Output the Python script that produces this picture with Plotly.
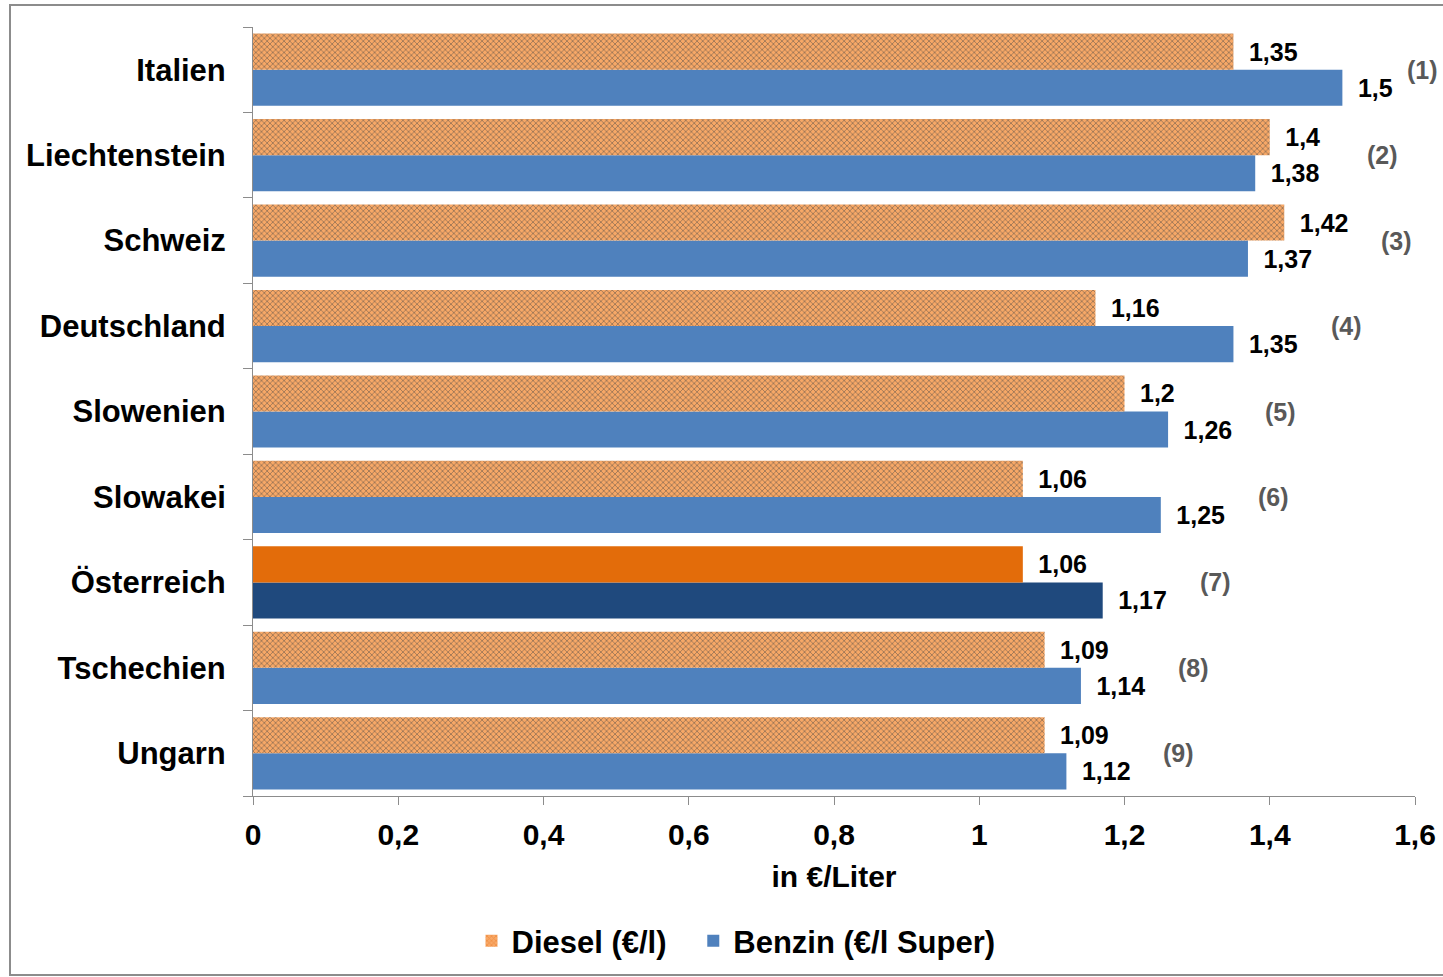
import plotly.graph_objects as go

# Fuel prices by country (€/litre)
countries = ["Italien", "Liechtenstein", "Schweiz", "Deutschland", "Slowenien",
             "Slowakei", "Österreich", "Tschechien", "Ungarn"]
diesel = [1.35, 1.40, 1.42, 1.16, 1.20, 1.06, 1.06, 1.09, 1.09]
benzin = [1.50, 1.38, 1.37, 1.35, 1.26, 1.25, 1.17, 1.14, 1.12]
ranks = ["(1)", "(2)", "(3)", "(4)", "(5)", "(6)", "(7)", "(8)", "(9)"]
x_ticks = [0, 0.2, 0.4, 0.6, 0.8, 1.0, 1.2, 1.4, 1.6]
x_tick_labels = ["0", "0,2", "0,4", "0,6", "0,8", "1", "1,2", "1,4", "1,6"]
highlight = "Österreich"

FONT = "Liberation Sans, Arial, sans-serif"
X_MAX = 1.6


def de_num(v):
    return f"{v:g}".replace(".", ",")


diesel_colors = ["#E36C0A" if c == highlight else "#F7A867" for c in countries]
diesel_pattern = ["" if c == highlight else "x" for c in countries]
benzin_colors = ["#1F497D" if c == highlight else "#4F81BD" for c in countries]

label_font = dict(family=FONT, size=25, color="#000000", weight="bold")

fig = go.Figure()

# In grouped horizontal bars the first trace sits lowest, so Benzin goes first
fig.add_trace(go.Bar(
    name="Benzin (€/l Super)", legendrank=2,
    y=countries, x=benzin, orientation="h",
    marker=dict(color=benzin_colors, line=dict(width=0)),
    text=["\u2002" + de_num(v) for v in benzin],
    textposition="outside", textfont=label_font,
    cliponaxis=False,
))
fig.add_trace(go.Bar(
    name="Diesel (€/l)\u2002\u2009", legendrank=1,
    y=countries, x=diesel, orientation="h",
    marker=dict(
        color=diesel_colors,
        line=dict(width=0),
        pattern=dict(shape=diesel_pattern, fgcolor="#EC7015",
                     size=4, solidity=0.4, fillmode="overlay"),
    ),
    text=["\u2002" + de_num(v) for v in diesel],
    textposition="outside", textfont=label_font,
    cliponaxis=False,
))

# Ranking labels to the right of each country's bars
for c, d, b, r in zip(countries, diesel, benzin, ranks):
    xpos = min(max(d, b) + 0.155, 1.61)
    fig.add_annotation(
        x=xpos / X_MAX, y=c, xref="paper", yref="y",
        text=r, showarrow=False, xanchor="center", yanchor="middle",
        font=dict(family=FONT, size=25, color="#595959", weight="bold"),
    )

# Outer frame around the whole chart
fig.add_shape(
    type="rect", xref="paper", yref="paper",
    x0=(10 - 253) / 1162, x1=(1460 - 253) / 1162,
    y0=(796 - 975) / 769, y1=(796 - 5) / 769,
    line=dict(color="#8C8C8C", width=2), fillcolor="rgba(0,0,0,0)", layer="below",
)

fig.update_layout(
    width=1443, height=977,
    margin=dict(l=253, r=28, t=27, b=181, autoexpand=False),
    paper_bgcolor="white", plot_bgcolor="white",
    barmode="group", bargap=0.155, bargroupgap=0,
    font=dict(family=FONT, color="#000000"),
    showlegend=True,
    legend=dict(
        orientation="h", xref="container", yref="container",
        x=736 / 1443, xanchor="center", y=1 - 941 / 977, yanchor="middle",
        font=dict(family=FONT, size=31, color="#000000", weight="bold"),
        itemwidth=30,
    ),
    xaxis=dict(
        range=[0, X_MAX], tickvals=x_ticks, ticktext=x_tick_labels,
        showgrid=False, zeroline=False, automargin=False,
        showline=True, linecolor="#8C8C8C", linewidth=1,
        ticks="outside", ticklen=8, tickcolor="#8C8C8C",
        ticklabelstandoff=4,
        tickfont=dict(family=FONT, size=30, color="#000000", weight="bold"),
        title=dict(text="in €/Liter", standoff=15,
                   font=dict(family=FONT, size=30, color="#000000", weight="bold")),
    ),
    yaxis=dict(
        categoryorder="array", categoryarray=countries[::-1],
        showgrid=False, zeroline=False, automargin=False,
        showline=True, linecolor="#8C8C8C", linewidth=1,
        ticks="outside", ticklen=9, tickcolor="#8C8C8C", tickson="boundaries",
        ticklabelstandoff=20,
        tickfont=dict(family=FONT, size=31, color="#000000", weight="bold"),
    ),
)

fig.write_html("out.html")
